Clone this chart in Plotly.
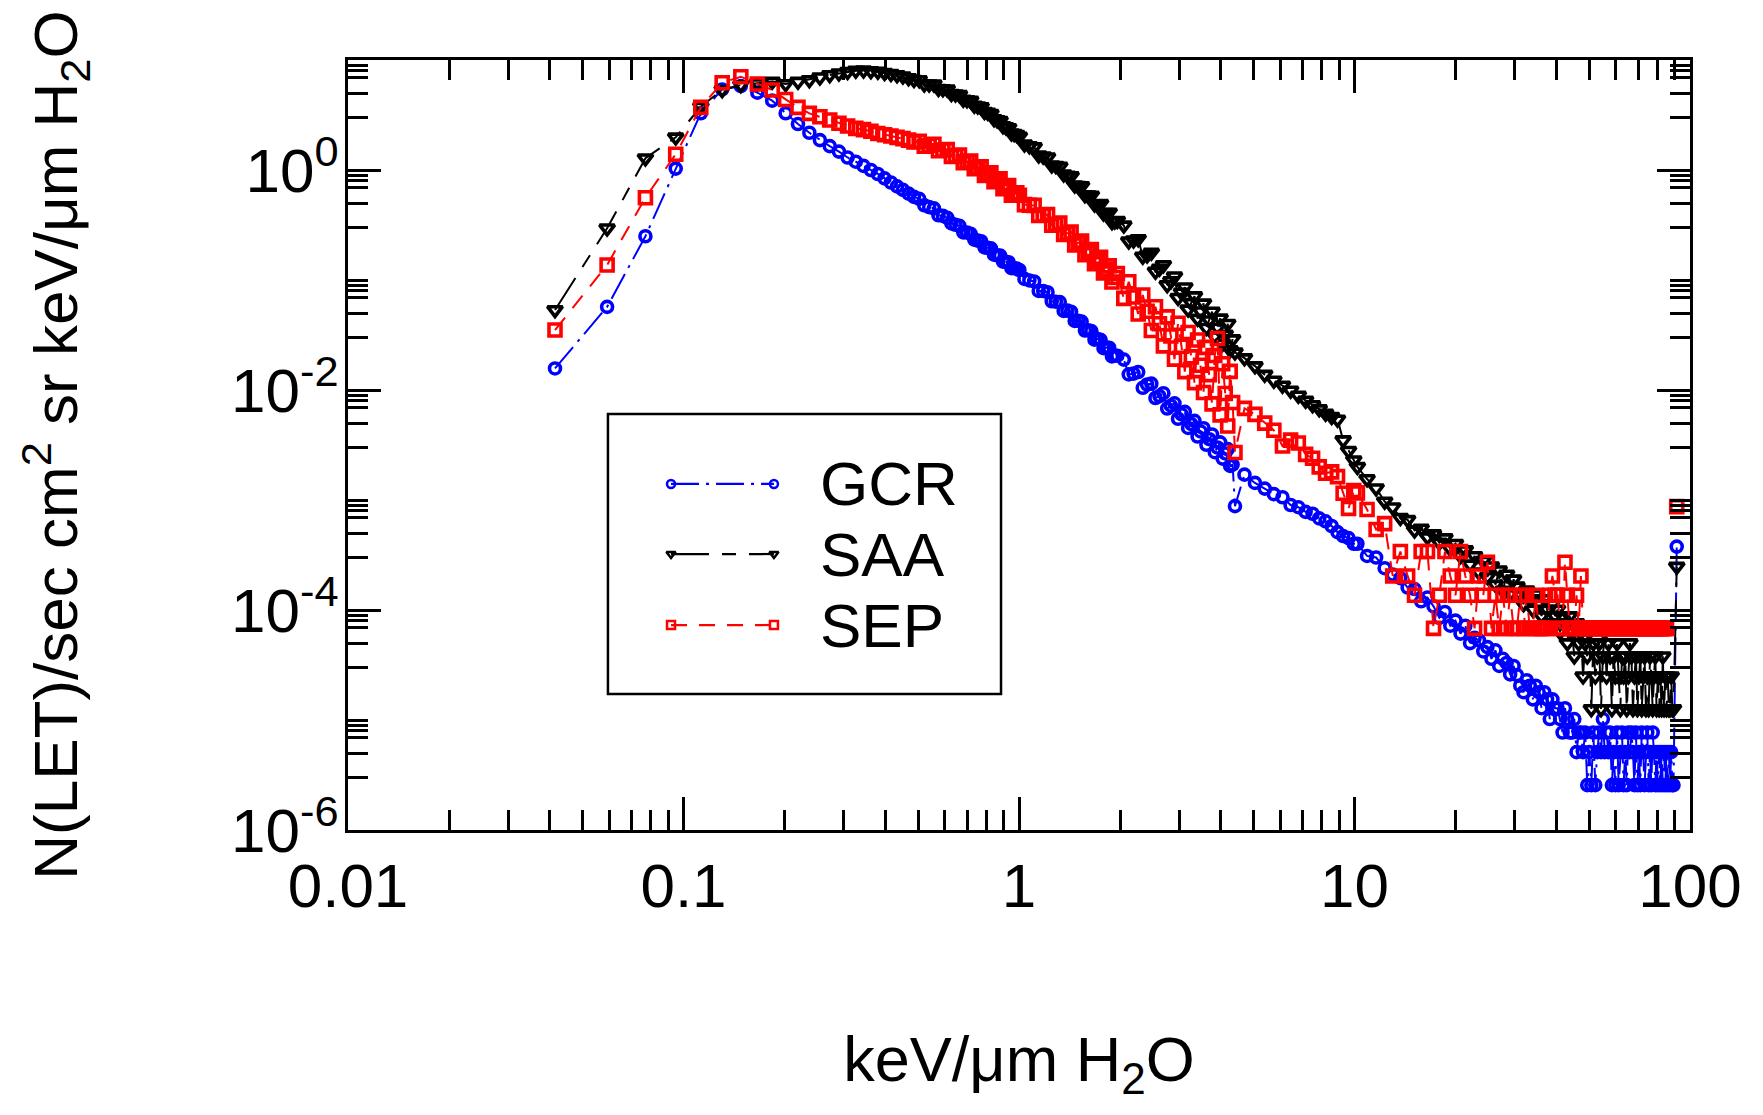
import plotly.graph_objects as go

# ---------------------------------------------------------------------------
# LET spectra measured in three radiation environments
# x: LET bin centre (keV/um in H2O), y: N(LET) per sec cm^2 sr keV/um
# ---------------------------------------------------------------------------
let_bins = [
    # low-gain range
    0.0414, 0.0592, 0.0770, 0.0948, 0.1126, 0.1304, 0.1482, 0.1660, 0.1838, 0.2016,
    0.2194, 0.2372, 0.2550, 0.2728, 0.2906, 0.3084, 0.3262, 0.3440, 0.3618, 0.3796,
    0.3974, 0.4152, 0.4330, 0.4508, 0.4686, 0.4864,
    0.5042, 0.5220, 0.5398, 0.5576, 0.5754, 0.5932, 0.6110, 0.6288, 0.6466, 0.6644,
    0.6822, 0.7000, 0.7178, 0.7356, 0.7534, 0.7712, 0.7890, 0.8068, 0.8246, 0.8424,
    0.8602, 0.8780, 0.8958, 0.9136, 0.9314, 0.9492, 0.9670, 0.9848,
    1.0026, 1.0382, 1.0738, 1.1094, 1.1450, 1.1806, 1.2162, 1.2518, 1.2874, 1.3230,
    1.3586, 1.3942, 1.4298, 1.4654, 1.5010, 1.5366, 1.5722, 1.6078, 1.6434, 1.6790,
    1.7146, 1.7502, 1.7858, 1.8214, 1.8570, 1.8926, 1.9282, 1.9638,
    2.053, 2.124, 2.195, 2.266, 2.338, 2.409, 2.480, 2.551, 2.622, 2.694, 2.765, 2.836,
    2.907, 2.979, 3.050, 3.121, 3.192, 3.264, 3.335, 3.406, 3.477, 3.548, 3.620, 3.691,
    3.762, 3.833, 3.904, 3.976, 4.047, 4.118, 4.189, 4.260, 4.332, 4.403,
    # high-gain range
    4.70, 5.05, 5.40, 5.75, 6.10, 6.45, 6.80, 7.15, 7.50, 7.85, 8.20, 8.55, 8.90, 9.25,
    9.60, 9.95,
    10.2, 10.9, 11.6, 12.3, 13.0, 13.7, 14.4, 15.1, 15.8, 16.5, 17.2, 17.9, 18.6, 19.3,
    20.0, 20.7, 21.4, 22.1, 22.8, 23.5, 24.2, 24.9, 25.6, 26.3, 27.0, 27.7, 28.4, 29.1,
    29.8,
    30.5, 31.2, 31.9, 32.6, 33.3, 34.0, 34.7, 35.4, 36.1, 36.8, 37.5, 38.2, 38.9, 39.6,
    40.3, 41.0, 41.7, 42.4, 43.1, 43.8, 44.5, 45.2, 45.9, 46.6, 47.3, 48.0, 48.7, 49.4,
    50.1, 50.8, 51.5, 52.2, 52.9, 53.6, 54.3, 55.0, 55.7, 56.4, 57.1, 57.8, 58.5, 59.2,
    59.9, 60.6, 61.3, 62.0, 62.7, 63.4, 64.1, 64.8, 65.5, 66.2, 66.9, 67.6, 68.3, 69.0,
    69.7, 70.4, 71.1, 71.8, 72.5, 73.2, 73.9, 74.6, 75.3, 76.0, 76.7, 77.4, 78.1, 78.8,
    79.5, 80.2, 80.9, 81.6, 82.3, 83.0, 83.7, 84.4, 85.1, 85.8, 86.5, 87.2, 87.9, 88.6,
    89.3,
    # overflow bin
    91.3,
]

gcr_flux = [
    0.0157, 0.057, 0.25, 1.03, 3.28, 5.4, 5.8, 5.05, 4.27, 3.28,
    2.62, 2.18, 1.87, 1.65, 1.47, 1.30, 1.19, 1.09, 1.00, 0.92,
    0.84, 0.77, 0.71, 0.66, 0.61, 0.57,
    0.546, 0.478, 0.460, 0.448, 0.388, 0.383, 0.368, 0.327, 0.318, 0.311,
    0.271, 0.270, 0.263, 0.233, 0.228, 0.225, 0.198, 0.196, 0.194, 0.170,
    0.168, 0.167, 0.147, 0.146, 0.145, 0.128, 0.128, 0.127,
    0.1232, 0.1023, 0.0991, 0.0970, 0.0796, 0.0794, 0.0775, 0.0640, 0.0635, 0.0630,
    0.0524, 0.0527, 0.0515, 0.0425, 0.0426, 0.0418, 0.0347, 0.0349, 0.0343, 0.0287,
    0.0290, 0.0286, 0.0240, 0.0243, 0.0242, 0.0202, 0.0206, 0.0205,
    0.0189, 0.01386, 0.0141, 0.01458, 0.01047, 0.01122, 0.01142, 0.00846, 0.0088, 0.00935,
    0.00678, 0.0072, 0.00757, 0.00548, 0.00602, 0.00633, 0.00452, 0.0049, 0.00524, 0.00378,
    0.0042, 0.00449, 0.00318, 0.00357, 0.00394, 0.00272, 0.0030, 0.00334, 0.00238, 0.00265,
    0.0029, 0.00204, 0.0021, 0.00088,
    0.00170, 0.00143, 0.00127, 0.00113, 0.00106, 0.00090, 0.00086, 0.00078, 0.00075,
    0.00068, 0.00064, 0.00058, 0.00051, 0.00047, 0.00045, 0.00040,
    4.0e-4, 3.1e-4, 3.0e-4, 2.4e-4, 2.1e-4, 1.95e-4, 1.6e-4, 1.55e-4, 1.2e-4, 1.3e-4,
    1.08e-4, 8.5e-5, 9.6e-5, 7.2e-5, 8.0e-5, 6.1e-5, 7.2e-5, 5.0e-5, 5.6e-5, 5.3e-5,
    4.2e-5, 4.6e-5, 3.6e-5, 4.3e-5, 3.1e-5, 3.6e-5, 3.3e-5, 2.6e-5, 3.1e-5,
    2.56e-5, 2.05e-5, 1.79e-5, 2.3e-5, 2.05e-5, 1.54e-5, 2.05e-5, 1.79e-5, 1.28e-5, 1.79e-5,
    1.54e-5, 1.02e-5, 1.54e-5, 1.28e-5,
    1.28e-5, 1.02e-5, 7.7e-6, 1.28e-5, 1.02e-5, 7.7e-6, 7.7e-6, 1.02e-5, 5.1e-6, 7.7e-6,
    7.7e-6,
    5.1e-6, 7.7e-6, 2.56e-6, 5.1e-6, 2.56e-6, 7.7e-6, 2.56e-6, 5.1e-6, 7.7e-6, 5.1e-6,
    1.02e-5, 5.1e-6, 7.7e-6, 5.1e-6, 7.7e-6, 2.56e-6, 5.1e-6, 2.56e-6, 7.7e-6, 2.56e-6,
    5.1e-6, 7.7e-6, 2.56e-6, 5.1e-6, 2.56e-6, 7.7e-6, 5.1e-6, 7.7e-6, 5.1e-6, 2.56e-6,
    7.7e-6, 2.56e-6, 5.1e-6, 2.56e-6, 7.7e-6, 5.1e-6, 2.56e-6, 5.1e-6, 7.7e-6, 2.56e-6,
    5.1e-6, 2.56e-6, 7.7e-6, 5.1e-6, 2.56e-6, 5.1e-6, 2.56e-6, 5.1e-6, 2.56e-6, 5.1e-6,
    2.56e-6, 5.1e-6, 2.56e-6, 5.1e-6, 2.56e-6, 5.1e-6, 2.56e-6, 5.1e-6, 2.56e-6, 2.56e-6,
    3.77e-4,
]

saa_flux = [
    0.0534, 0.295, 1.28, 1.98, 3.77, 5.34, 5.93, 6.14, 6.36, 6.05,
    6.36, 6.58, 6.96, 7.31, 7.57, 7.8, 8.0, 8.05, 7.95, 7.85,
    7.65, 7.5, 7.3, 7.1, 6.85, 6.6,
    6.58, 6.00, 6.01, 6.02, 5.48, 5.44, 5.41, 4.92, 4.88, 4.82,
    4.37, 4.33, 4.28, 3.85, 3.80, 3.74, 3.38, 3.32, 3.24, 2.91,
    2.85, 2.80, 2.51, 2.46, 2.41, 2.16, 2.13, 2.09,
    2.016, 1.717, 1.655, 1.613, 1.357, 1.331, 1.305, 1.105, 1.091, 1.075,
    0.916, 0.892, 0.879, 0.726, 0.720, 0.713, 0.592, 0.590, 0.587, 0.489,
    0.490, 0.493, 0.403, 0.4078, 0.411, 0.3368, 0.3418, 0.3455,
    0.3136, 0.2252, 0.230, 0.236, 0.1637, 0.168, 0.1775, 0.1195, 0.127, 0.1369, 0.0901,
    0.098, 0.108, 0.0689, 0.077, 0.0859, 0.0541, 0.062, 0.0713, 0.04455, 0.052, 0.06125,
    0.0368, 0.043, 0.05166, 0.0308, 0.037, 0.0448, 0.0265, 0.032, 0.040, 0.0231, 0.029,
    0.022,
    0.0195, 0.0165, 0.0138, 0.0122, 0.0110, 0.0099, 0.0089, 0.0080, 0.0073, 0.0067,
    0.0061, 0.0057, 0.0054, 0.0035, 0.0028, 0.0023,
    0.0020, 0.00155, 0.00128, 0.00097, 0.00086, 0.00069, 0.00066, 0.00053, 0.00055,
    0.00046, 0.00049, 0.00041, 0.00045, 0.00036, 0.00040, 0.00031, 0.00035, 0.00026,
    0.00031, 0.00022, 0.00028, 0.00020, 0.00025, 0.00017, 0.00023, 0.00015, 0.00021,
    0.00014, 0.00019,
    1.64e-4, 1.39e-4, 1.13e-4, 1.51e-4, 1.26e-4, 1.01e-4, 1.39e-4, 1.13e-4, 8.8e-5, 1.26e-4,
    1.01e-4, 7.6e-5, 1.13e-4, 8.8e-5,
    1.01e-4, 6.3e-5, 8.8e-5, 7.6e-5, 5.0e-5, 8.8e-5, 6.3e-5, 3.8e-5, 7.6e-5, 5.0e-5,
    6.3e-5,
    2.5e-5, 5.0e-5, 3.8e-5, 6.3e-5, 1.26e-5, 5.0e-5, 2.5e-5, 3.8e-5, 5.0e-5, 1.26e-5,
    3.8e-5, 6.3e-5, 2.5e-5, 5.0e-5, 3.8e-5,
    1.26e-5, 3.8e-5, 2.5e-5, 5.0e-5, 2.5e-5, 1.26e-5, 3.8e-5, 2.5e-5, 3.8e-5, 1.26e-5,
    2.5e-5, 5.0e-5, 3.8e-5, 1.26e-5, 2.5e-5, 3.8e-5, 1.26e-5, 2.5e-5, 3.8e-5, 1.26e-5,
    2.5e-5, 3.8e-5, 1.26e-5, 2.5e-5, 1.26e-5, 3.8e-5, 2.5e-5, 1.26e-5, 2.5e-5, 3.8e-5,
    1.26e-5, 2.5e-5, 1.26e-5, 2.5e-5, 1.26e-5, 3.8e-5, 1.26e-5, 2.5e-5, 1.26e-5, 2.5e-5,
    1.26e-5, 1.26e-5, 2.5e-5, 1.26e-5, 1.26e-5,
    2.48e-4,
]

sep_flux = [
    0.0351, 0.137, 0.56, 1.39, 3.71, 6.22, 7.05, 6.05, 5.34, 4.38,
    3.71, 3.27, 3.05, 2.85, 2.66, 2.51, 2.39, 2.33, 2.25, 2.15,
    2.09, 2.04, 1.98, 1.93, 1.87, 1.80,
    1.82, 1.642, 1.67, 1.712, 1.496, 1.52, 1.533, 1.33, 1.345, 1.367,
    1.166, 1.19, 1.208, 1.025, 1.045, 1.07, 0.893, 0.92, 0.942, 0.781,
    0.805, 0.832, 0.676, 0.70, 0.724, 0.589, 0.605, 0.621,
    0.590, 0.4848, 0.4788, 0.4769, 0.3866, 0.3887, 0.3932, 0.3144, 0.3212, 0.3297,
    0.2597, 0.2658, 0.2728, 0.2086, 0.2169, 0.2258, 0.1700, 0.1796, 0.1894, 0.1403,
    0.1505, 0.1607, 0.1161, 0.1256, 0.1349, 0.0959, 0.1053, 0.1144,
    0.068, 0.0963, 0.070, 0.0491, 0.073, 0.052, 0.0348, 0.0572, 0.040, 0.0252, 0.0462,
    0.031, 0.0191, 0.0405, 0.025, 0.0147, 0.0333, 0.020, 0.01166, 0.0285, 0.0168, 0.00948,
    0.0244, 0.0138, 0.00748, 0.0206, 0.0294, 0.00594, 0.0173, 0.0093, 0.0047, 0.01476,
    0.0077, 0.0027,
    0.0068, 0.0060, 0.0050, 0.0043, 0.0031, 0.0035, 0.0033, 0.0026, 0.0024, 0.0020,
    0.00175, 0.0018, 0.00163, 0.00115, 0.00084, 0.00122,
    1.16e-3, 8.2e-4, 5.4e-4, 6.1e-4, 2.04e-4, 3.4e-4, 2.04e-4, 1.36e-4, 3.4e-4, 3.4e-4,
    6.8e-5, 1.36e-4, 3.4e-4, 2.04e-4, 1.36e-4, 3.4e-4, 2.04e-4, 1.36e-4, 6.8e-5, 2.04e-4,
    1.36e-4, 2.72e-4, 6.8e-5, 1.36e-4, 6.8e-5, 1.36e-4, 6.8e-5, 1.36e-4, 6.8e-5,
    6.8e-5, 1.36e-4, 6.8e-5, 1.36e-4, 6.8e-5, 6.8e-5, 1.36e-4, 6.8e-5, 6.8e-5, 6.8e-5,
    6.8e-5, 1.36e-4, 2.04e-4, 1.36e-4,
    1.36e-4, 6.8e-5, 6.8e-5, 2.72e-4, 1.36e-4, 6.8e-5, 6.8e-5, 6.8e-5, 1.36e-4, 6.8e-5,
    2.04e-4,
    6.8e-5, 6.8e-5, 6.8e-5, 6.8e-5, 6.8e-5, 6.8e-5, 6.8e-5, 6.8e-5, 6.8e-5, 6.8e-5,
    6.8e-5, 6.8e-5, 6.8e-5, 6.8e-5, 6.8e-5, 6.8e-5, 6.8e-5, 6.8e-5, 6.8e-5, 6.8e-5,
    6.8e-5, 6.8e-5, 6.8e-5, 6.8e-5, 6.8e-5, 6.8e-5, 6.8e-5, 6.8e-5, 6.8e-5, 6.8e-5,
    6.8e-5, 6.8e-5, 6.8e-5, 6.8e-5, 6.8e-5, 6.8e-5, 6.8e-5, 6.8e-5, 6.8e-5, 6.8e-5,
    6.8e-5, 6.8e-5, 6.8e-5, 6.8e-5, 6.8e-5, 6.8e-5, 6.8e-5, 6.8e-5, 6.8e-5, 6.8e-5,
    6.8e-5, 6.8e-5, 6.8e-5, 6.8e-5,
    None, None, None, None, None, None,
    8.7e-4,
]

for flux in (gcr_flux, saa_flux, sep_flux):
    assert len(flux) == len(let_bins), (len(flux), len(let_bins))

# axis ticks
x_major = [0.01, 0.1, 1, 10, 100]
x_major_text = ["0.01", "0.1", "1", "10", "100"]
x_minor = [m * d for d in (0.01, 0.1, 1, 10) for m in range(2, 10)]
y_major = [1e-6, 1e-4, 1e-2, 1]
y_major_text = ["10<sup>-6</sup>", "10<sup>-4</sup>", "10<sup>-2</sup>", "10<sup>0</sup>"]
y_minor = ([m * d for d in (1e-6, 1e-5, 1e-4, 1e-3, 1e-2, 1e-1, 1) for m in (3, 5, 7, 8, 9)]
           + [1e-5, 1e-3, 1e-1, 10])

FONT = "Liberation Sans, Arial, Helvetica, sans-serif"

series = [
    dict(name="GCR", y=gcr_flux, color="#0000ff", symbol="circle-open", size=11,
         dash="28px,7px,3px,7px"),
    dict(name="SAA", y=saa_flux, color="#000000", symbol="triangle-down-open", size=13,
         dash="38px,13px,14px,13px"),
    dict(name="SEP", y=sep_flux, color="#ff0000", symbol="square-open", size=12,
         dash="16px,12px"),
]

fig = go.Figure()
for s in series:
    fig.add_trace(go.Scatter(
        x=let_bins, y=s["y"], name=s["name"], mode="lines+markers",
        line=dict(color=s["color"], width=2, dash=s["dash"]),
        marker=dict(symbol=s["symbol"], size=s["size"], color=s["color"],
                    line=dict(width=3.6, color=s["color"])),
        showlegend=False, cliponaxis=False, connectgaps=False,
    ))

# hand-built legend drawn on an overlay axis spanning the plot area (0..1)
legend_box = dict(x0=0.1937, x1=0.4866, y0=0.1766, y1=0.5403)
legend_sample_x = [0.2407, 0.3174]
legend_text_x = 0.3502
legend_rows = [0.4494, 0.3584, 0.2662]
for s, row in zip(series, legend_rows):
    fig.add_trace(go.Scatter(
        x=legend_sample_x, y=[row, row], mode="lines+markers", xaxis="x2", yaxis="y2",
        line=dict(color=s["color"], width=2.2, dash=s["dash"]),
        marker=dict(symbol=s["symbol"], size=8, color=s["color"],
                    line=dict(width=2.5, color=s["color"])),
        showlegend=False, hoverinfo="skip", cliponaxis=False,
    ))
    fig.add_annotation(x=legend_text_x, y=row, xref="paper", yref="paper", text=s["name"],
                       showarrow=False, xanchor="left", yanchor="middle",
                       font=dict(family=FONT, size=62, color="black"))
fig.add_shape(type="rect", xref="paper", yref="paper", line=dict(color="black", width=2.5),
              fillcolor="rgba(0,0,0,0)", **legend_box)

axis_common = dict(
    type="log", showline=True, linecolor="black", linewidth=3, mirror="ticks",
    ticks="inside", ticklen=33, tickwidth=2.5, tickcolor="black",
    showgrid=False, zeroline=False, tickmode="array",
    tickfont=dict(family=FONT, size=62, color="black"),
)

fig.update_layout(
    template="none",
    width=1763, height=1115,
    paper_bgcolor="white", plot_bgcolor="rgba(0,0,0,0)",
    margin=dict(l=348, r=73, t=60, b=285, autoexpand=False),
    showlegend=False,
    font=dict(family=FONT, color="black"),
    xaxis=dict(
        axis_common, range=[-2, 2], tickvals=x_major, ticktext=x_major_text,
        ticklabelstandoff=0,
        minor=dict(tickmode="array", tickvals=x_minor, ticks="inside", ticklen=20,
                   tickwidth=2.5, tickcolor="black", showgrid=False),
        title=dict(text="keV/μm H<sub>2</sub>O", font=dict(family=FONT, size=63),
                   standoff=118),
        automargin=False,
    ),
    yaxis=dict(
        axis_common, range=[-6, 1], tickvals=y_major, ticktext=y_major_text,
        ticklabelstandoff=-6,
        minor=dict(tickmode="array", tickvals=y_minor, ticks="inside", ticklen=20,
                   tickwidth=2.5, tickcolor="black", showgrid=False),
        title=dict(text="N(LET)/sec cm<sup>2</sup> sr keV/μm H<sub>2</sub>O",
                   font=dict(family=FONT, size=62), standoff=134),
        automargin=False,
    ),
    xaxis2=dict(domain=[0, 1], anchor="y2", range=[0, 1], visible=False, fixedrange=True),
    yaxis2=dict(domain=[0, 1], anchor="x2", range=[0, 1], visible=False, fixedrange=True),
)

fig.write_html("out.html")
